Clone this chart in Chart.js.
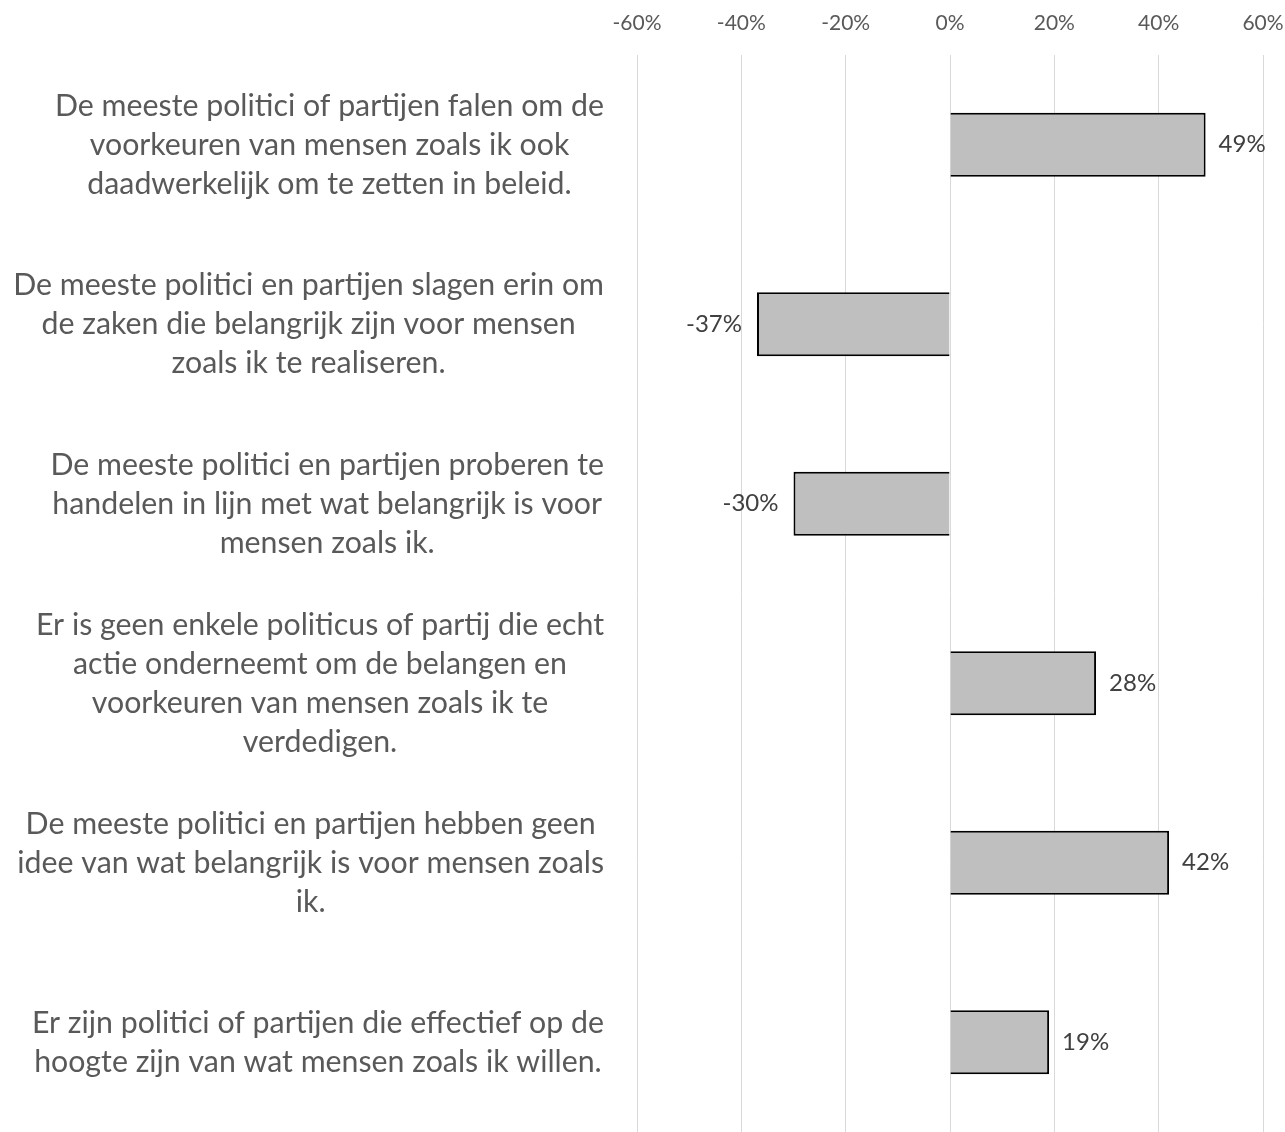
<!DOCTYPE html>
<html>
<head>
<meta charset="utf-8">
<script src="https://cdn.jsdelivr.net/npm/chart.js@4"></script>
<style>
  html, body { margin: 0; padding: 0; background: #fff; }
  .grafik { width: 1285px; height: 1132px; }
</style>
</head>
<body>
<div class="grafik"><canvas id="myChart"></canvas></div>
<script>
// categorieen, zoals ze in de grafiek over regels verdeeld zijn
var categories = [
	['De meeste politici of partijen falen om de', 'voorkeuren van mensen zoals ik ook', 'daadwerkelijk om te zetten in beleid.'],
	['De meeste politici en partijen slagen erin om', 'de zaken die belangrijk zijn voor mensen', 'zoals ik te realiseren.'],
	['De meeste politici en partijen proberen te', 'handelen in lijn met wat belangrijk is voor', 'mensen zoals ik.'],
	['Er is geen enkele politicus of partij die echt', 'actie onderneemt om de belangen en', 'voorkeuren van mensen zoals ik te', 'verdedigen.'],
	['De meeste politici en partijen hebben geen', 'idee van wat belangrijk is voor mensen zoals', 'ik.'],
	['Er zijn politici of partijen die effectief op de', 'hoogte zijn van wat mensen zoals ik willen.']
];
var values = [49, -37, -30, 28, 42, 19];
var tickValues = [-60, -40, -20, 0, 20, 40, 60];

var FONT = 'Lato';
var CAT_SIZE = 30.3;
var CAT_LINE = 39;

function pct(v){
	return v + '%';
}

// labels links van de balken, per label gecentreerd
var catLabels = {
	id: 'catLabels',
	afterDraw: function(chart){
		var ctx = chart.ctx;
		var yScale = chart.scales.y;
		var right = chart.chartArea.left - 33;
		ctx.save();
		ctx.font = CAT_SIZE + 'px ' + FONT;
		ctx.fillStyle = '#595959';
		ctx.textAlign = 'center';
		ctx.textBaseline = 'middle';
		categories.forEach(function(lines, i){
			var widest = 0;
			lines.forEach(function(l){ widest = Math.max(widest, ctx.measureText(l).width); });
			var cx = right - widest / 2;
			var cy = yScale.getPixelForTick(i);
			var y0 = cy - (lines.length - 1) * CAT_LINE / 2;
			lines.forEach(function(l, j){
				ctx.fillText(l, cx, y0 + j * CAT_LINE);
			});
		});
		ctx.restore();
	}
};

// waarden naast de balken
var valueLabels = {
	id: 'valueLabels',
	afterDatasetsDraw: function(chart){
		var ctx = chart.ctx;
		var meta = chart.getDatasetMeta(0);
		ctx.save();
		ctx.font = '24px ' + FONT;
		ctx.fillStyle = '#404040';
		ctx.textBaseline = 'middle';
		meta.data.forEach(function(bar, i){
			var v = values[i];
			if (v >= 0) {
				ctx.textAlign = 'left';
				ctx.fillText(pct(v), bar.x + 13, bar.y);
			} else {
				ctx.textAlign = 'right';
				ctx.fillText(pct(v), bar.x - 15, bar.y);
			}
		});
		ctx.restore();
	}
};

var ctx = document.getElementById('myChart').getContext('2d');
var chart = new Chart(ctx, {
	type: 'bar',
	data: {
		labels: categories.map(function(c){ return c.join(' '); }),
		datasets: [{
			data: values,
			backgroundColor: '#BFBFBF',
			borderColor: '#000000',
			borderWidth: 2,
			barPercentage: 0.356,
			categoryPercentage: 1
		}]
	},
	options: {
		indexAxis: 'y',
		responsive: true,
		maintainAspectRatio: false,
		animation: false,
		layout: { padding: 0 },
		plugins: {
			legend: { display: false },
			tooltip: { enabled: false }
		},
		scales: {
			x: {
				position: 'top',
				min: -60,
				max: 60,
				afterBuildTicks: function(scale){
					scale.ticks = tickValues.map(function(v){ return { value: v }; });
				},
				afterFit: function(scale){
					scale.height = 55;
					scale.paddingLeft = 0;
					scale.paddingRight = 22;
				},
				ticks: {
					callback: function(v){ return pct(v); },
					font: { family: FONT, size: 21 },
					color: '#595959',
					padding: 19,
					maxRotation: 0
				},
				grid: {
					color: '#D9D9D9',
					lineWidth: 1,
					drawTicks: false
				},
				border: { display: false }
			},
			y: {
				afterFit: function(scale){
					scale.width = 637;
				},
				ticks: { display: false },
				grid: { display: false },
				border: { display: false }
			}
		}
	},
	plugins: [catLabels, valueLabels]
});
</script>
</body>
</html>
